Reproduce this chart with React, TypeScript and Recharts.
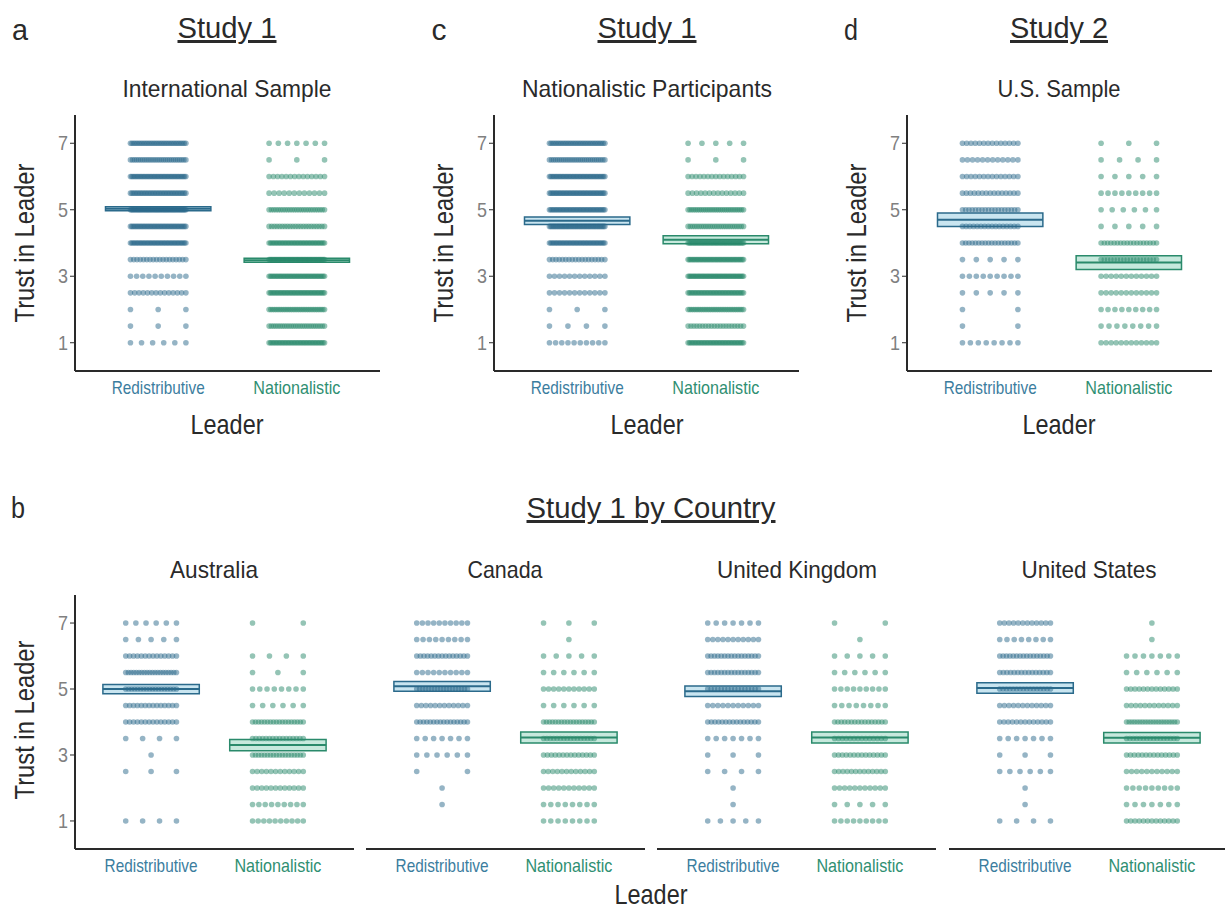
import React from "react";
import {
  ReferenceArea,
  ReferenceLine,
  Scatter,
  ScatterChart,
  XAxis,
  YAxis,
} from "recharts";

// no condensed face is installed, so text is squeezed to width with textLength
const FONT = '"Liberation Sans", Arial, sans-serif';

const BLUE = "#2b6a8b";
const BLUE_FILL = "#b7dceb";
const BLUE_TEXT = "#3b7d9e";
const GREEN = "#2a8a6b";
const GREEN_FILL = "#b4e2d2";
const GREEN_TEXT = "#2f8f72";
const INK = "#2a2a2a";

const LEADERS = ["Redistributive", "Nationalistic"];
const LEADER_W = [93, 87];
const Y_TICKS = [1, 3, 5, 7];

// response levels, top to bottom
const LEVELS = [7, 6.5, 6, 5.5, 5, 4.5, 4, 3.5, 3, 2.5, 2, 1.5, 1];

const intlRedis = [34, 28, 40, 36, 50, 40, 40, 18, 10, 14, 3, 3, 6];
const intlNat = [7, 3, 14, 12, 25, 22, 38, 44, 40, 40, 32, 26, 38];
const natPartRedis = [34, 28, 40, 40, 40, 44, 40, 18, 12, 12, 3, 4, 10];
const natPartNat = [5, 3, 15, 14, 30, 26, 44, 42, 44, 38, 32, 20, 38];
const usSampleRedis = [14, 12, 14, 15, 18, 16, 18, 5, 9, 5, 2, 2, 8];
const usSampleNat = [3, 4, 5, 9, 6, 5, 18, 18, 12, 12, 9, 8, 12];
const ausRedis = [6, 5, 14, 20, 18, 14, 14, 4, 1, 3, 0, 0, 4];
const ausNat = [2, 0, 4, 3, 8, 6, 18, 16, 18, 12, 12, 9, 10];
const canRedis = [10, 9, 15, 10, 18, 12, 16, 7, 6, 2, 1, 1, 0];
const canNat = [3, 1, 5, 6, 11, 6, 18, 16, 14, 12, 11, 8, 8];
const ukRedis = [7, 11, 16, 16, 16, 11, 15, 7, 3, 4, 1, 1, 5];
const ukNat = [2, 1, 5, 6, 9, 8, 16, 14, 14, 13, 11, 5, 9];
const usaRedis = [12, 8, 16, 15, 16, 12, 13, 7, 3, 6, 1, 1, 4];
const usaNat = [1, 1, 7, 6, 13, 12, 20, 16, 14, 11, 9, 7, 13];

// mean and standard error per panel: a, c, d, Australia, Canada, UK, US
const meanRedis = [5.03, 4.67, 4.7, 5.0, 5.08, 4.93, 5.03];
const seRedis = [0.06, 0.11, 0.2, 0.14, 0.15, 0.16, 0.16];
const meanNat = [3.48, 4.1, 3.41, 3.3, 3.53, 3.53, 3.52];
const seNat = [0.06, 0.12, 0.21, 0.17, 0.17, 0.17, 0.16];

type Pt = { x: number; y: number };

function spread(counts: number[], center: number): Pt[] {
  const pts: Pt[] = [];
  counts.forEach((n, i) => {
    for (let j = 0; j < n; j++) {
      const t = n === 1 ? 0.5 : j / (n - 1);
      pts.push({ x: center - 0.2 + 0.4 * t, y: LEVELS[i] });
    }
  });
  return pts;
}

const dot = (color: string) => (p: any) => (
  <circle cx={p.cx} cy={p.cy} r={2.8} fill={color} fillOpacity={0.5} />
);

const CatTick = (p: any) => {
  const v = p.payload.value;
  return (
    <text
      x={p.x}
      y={p.y}
      dy={15}
      textAnchor="middle"
      fontSize={19}
      fontFamily={FONT}
      textLength={LEADER_W[v - 1]}
      lengthAdjust="spacingAndGlyphs"
      fill={v === 1 ? BLUE_TEXT : GREEN_TEXT}
    >
      {LEADERS[v - 1]}
    </text>
  );
};

const NumTick = (p: any) => (
  <text
    x={p.x}
    y={p.y}
    dy={7}
    textAnchor="end"
    fontSize={21}
    fontFamily={FONT}
    textLength={10}
    lengthAdjust="spacingAndGlyphs"
    fill="#808080"
  >
    {p.payload.value}
  </text>
);

type PanelProps = {
  idx: number;
  redis: number[];
  nat: number[];
  width: number;
  height: number;
  showY: boolean;
  marginRight: number;
};

function Panel({ idx, redis, nat, width, height, showY, marginRight }: PanelProps) {
  const redisPts = spread(redis, 1);
  const natPts = spread(nat, 2);
  const boxes = [
    { c: 1, m: meanRedis[idx], se: seRedis[idx], stroke: BLUE, fill: BLUE_FILL },
    { c: 2, m: meanNat[idx], se: seNat[idx], stroke: GREEN, fill: GREEN_FILL },
  ];
  return (
    <ScatterChart
      width={width}
      height={height}
      margin={{ top: 15, right: marginRight, bottom: 0, left: 0 }}
    >
      <XAxis
        type="number"
        dataKey="x"
        domain={[0.4, 2.6]}
        ticks={[1, 2]}
        allowDataOverflow
        tickLine={false}
        axisLine={{ stroke: INK, strokeWidth: 2 }}
        tick={CatTick}
        height={29}
      />
      <YAxis
        type="number"
        dataKey="y"
        domain={[0.15, 7.85]}
        ticks={Y_TICKS}
        allowDataOverflow
        hide={!showY}
        width={showY ? 75 : 0}
        tickSize={5}
        tickLine={{ stroke: INK }}
        axisLine={{ stroke: INK, strokeWidth: 2 }}
        tick={NumTick}
      />
      <Scatter data={redisPts} shape={dot(BLUE)} isAnimationActive={false} />
      <Scatter data={natPts} shape={dot(GREEN)} isAnimationActive={false} />
      {boxes.map((b) => (
        <ReferenceArea
          key={`a${b.c}`}
          x1={b.c - 0.38}
          x2={b.c + 0.38}
          y1={b.m - b.se}
          y2={b.m + b.se}
          fill={b.fill}
          fillOpacity={0.75}
          stroke={b.stroke}
          strokeWidth={1.5}
          strokeOpacity={1}
        />
      ))}
      {boxes.map((b) => (
        <ReferenceLine
          key={`l${b.c}`}
          segment={[
            { x: b.c - 0.38, y: b.m },
            { x: b.c + 0.38, y: b.m },
          ]}
          stroke={b.stroke}
          strokeWidth={2}
        />
      ))}
    </ScatterChart>
  );
}

const at = (left: number, top: number, child: React.ReactNode) => (
  <div style={{ position: "absolute", left, top }}>{child}</div>
);

const T = ({
  x,
  y,
  s,
  size,
  len,
  underline = false,
  rotate = false,
}: {
  x: number;
  y: number;
  s: string;
  size: number;
  len: number;
  underline?: boolean;
  rotate?: boolean;
}) => (
  <text
    x={x}
    y={y}
    textAnchor="middle"
    fontSize={size}
    fill={INK}
    textLength={len}
    lengthAdjust="spacingAndGlyphs"
    textDecoration={underline ? "underline" : undefined}
    transform={rotate ? `rotate(-90 ${x} ${y})` : undefined}
  >
    {s}
  </text>
);

export default function App() {
  return (
    <div
      style={{
        position: "absolute",
        left: 0,
        top: 0,
        width: 1225,
        height: 914,
        overflow: "hidden",
        background: "#fff",
        fontFamily: FONT,
      }}
    >
      {at(0, 100, <Panel idx={0} redis={intlRedis} nat={intlNat} width={400} height={300} showY marginRight={20} />)}
      {at(419, 100, <Panel idx={1} redis={natPartRedis} nat={natPartNat} width={400} height={300} showY marginRight={20} />)}
      {at(832, 100, <Panel idx={2} redis={usSampleRedis} nat={usSampleNat} width={390} height={300} showY marginRight={10} />)}
      {at(0, 580, <Panel idx={3} redis={ausRedis} nat={ausNat} width={354} height={298} showY marginRight={0} />)}
      {at(366, 580, <Panel idx={4} redis={canRedis} nat={canNat} width={279} height={298} showY={false} marginRight={0} />)}
      {at(657, 580, <Panel idx={5} redis={ukRedis} nat={ukNat} width={279} height={298} showY={false} marginRight={0} />)}
      {at(949, 580, <Panel idx={6} redis={usaRedis} nat={usaNat} width={279} height={298} showY={false} marginRight={0} />)}

      <svg
        width={1225}
        height={914}
        style={{ position: "absolute", left: 0, top: 0, pointerEvents: "none" }}
        fontFamily={FONT}
      >
        <T x={20} y={40} s="a" size={30} len={16} />
        <T x={439} y={40} s="c" size={30} len={15} />
        <T x={851} y={40} s="d" size={30} len={14} />
        <T x={18} y={518} s="b" size={30} len={14} />

        <T x={227} y={38} s="Study 1" size={30} len={99} underline />
        <T x={647} y={38} s="Study 1" size={30} len={99} underline />
        <T x={1059} y={38} s="Study 2" size={30} len={98} underline />
        <T x={651} y={518} s="Study 1 by Country" size={30} len={249} underline />

        <T x={227} y={97} s="International Sample" size={24} len={209} />
        <T x={647} y={97} s="Nationalistic Participants" size={24} len={250} />
        <T x={1059} y={97} s="U.S. Sample" size={24} len={123} />
        <T x={214} y={578} s="Australia" size={24} len={88} />
        <T x={505} y={578} s="Canada" size={24} len={75} />
        <T x={797} y={578} s="United Kingdom" size={24} len={160} />
        <T x={1089} y={578} s="United States" size={24} len={135} />

        <T x={227} y={434} s="Leader" size={28} len={73} />
        <T x={647} y={434} s="Leader" size={28} len={73} />
        <T x={1059} y={434} s="Leader" size={28} len={73} />
        <T x={651} y={904} s="Leader" size={28} len={73} />

        <T x={34} y={243} s="Trust in Leader" size={28} len={159} rotate />
        <T x={453} y={243} s="Trust in Leader" size={28} len={159} rotate />
        <T x={866} y={243} s="Trust in Leader" size={28} len={159} rotate />
        <T x={34} y={720} s="Trust in Leader" size={28} len={159} rotate />
      </svg>
    </div>
  );
}
